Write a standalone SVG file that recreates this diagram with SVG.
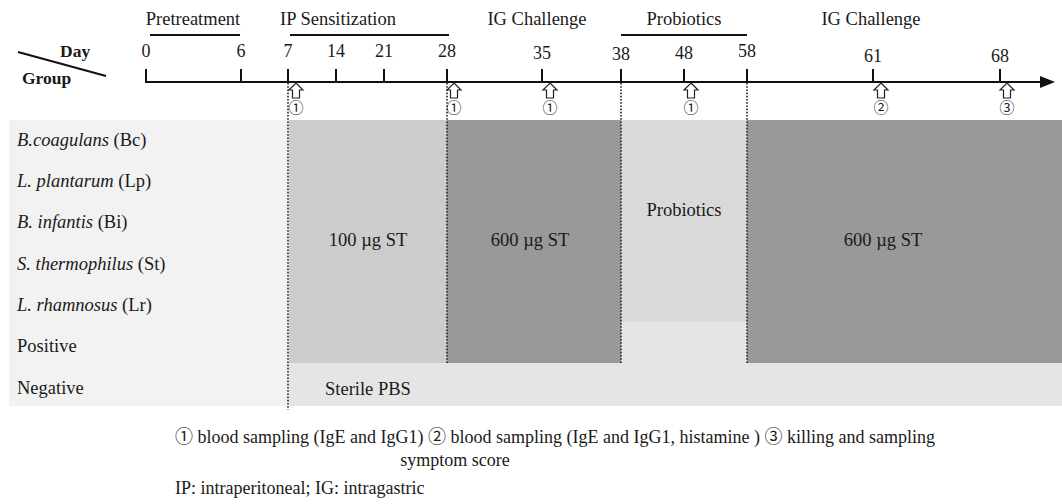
<svg xmlns="http://www.w3.org/2000/svg" width="1062" height="504" viewBox="0 0 1062 504">
<style>
text{font-family:"Liberation Serif","Noto Sans CJK SC",serif;fill:#1a1a1a;font-size:18.5px}
.h{font-size:18.5px}
.b{font-weight:bold;font-size:17.5px}
.n{font-size:18px;text-anchor:middle}
.c{text-anchor:middle}
.i{font-style:italic}
.cn{font-size:15px;text-anchor:middle;font-family:"Noto Sans CJK SC",sans-serif}
.lg{font-size:18px}
.ax{stroke:#111;stroke-width:2;fill:none}
.dot{stroke:#222;stroke-width:1.6;stroke-dasharray:1.6 1.6;fill:none}
.arr{fill:#fff;stroke:#222;stroke-width:1.2}
</style>
<defs>
<path id="up" d="M0,0 L7,7 L3.5,7 L3.5,15 L-3.5,15 L-3.5,7 L-7,7 Z"/>
</defs>
<rect width="1062" height="504" fill="#fff"/>
<g id="table">
<rect x="9" y="120" width="1053" height="286" fill="#f2f2f2"/>
<rect id="sterile" x="289" y="363" width="773" height="43" fill="#e5e5e5"/>
<rect x="621" y="322" width="126" height="41" fill="#e5e5e5"/>
<rect id="ip100" x="289" y="120" width="158" height="243" fill="#cccccc"/>
<rect id="ig600a" x="447" y="120" width="174" height="243" fill="#999999"/>
<rect id="probio" x="621" y="120" width="126" height="202" fill="#d9d9d9"/>
<rect id="ig600b" x="747" y="120" width="315" height="243" fill="#999999"/>
<text x="368" y="246" class="c">100 µg ST</text>
<text x="530" y="246" class="c">600 µg ST</text>
<text x="684" y="216" class="c">Probiotics</text>
<text x="883" y="246" class="c">600 µg ST</text>
<text x="325" y="395">Sterile PBS</text>
</g>
<g id="rows">
<text x="17" y="146"><tspan class="i">B.coagulans</tspan> (Bc)</text>
<text x="17" y="187"><tspan class="i">L. plantarum</tspan> (Lp)</text>
<text x="17" y="228"><tspan class="i">B. infantis</tspan> (Bi)</text>
<text x="17" y="270"><tspan class="i">S. thermophilus</tspan> (St)</text>
<text x="17" y="311"><tspan class="i">L. rhamnosus</tspan> (Lr)</text>
<text x="17" y="352">Positive</text>
<text x="17" y="394">Negative</text>
</g>
<g id="header">
<line x1="18" y1="52" x2="106" y2="76" class="ax"/>
<text x="60" y="57" class="b">Day</text>
<text x="22" y="84" class="b">Group</text>
<text x="193" y="25" class="h c">Pretreatment</text>
<line x1="150" y1="35" x2="240" y2="35" class="ax"/>
<text x="338" y="25" class="h c">IP Sensitization</text>
<line x1="290" y1="35" x2="449" y2="35" class="ax"/>
<text x="537" y="25" class="h c">IG Challenge</text>
<text x="684" y="25" class="h c">Probiotics</text>
<line x1="621" y1="35" x2="747" y2="35" class="ax"/>
<text x="871" y="25" class="h c">IG Challenge</text>
</g>
<g id="connectors">
<path d="M146,69 V82 H1043" class="ax"/>
<polygon points="1040,76 1055,82 1040,88" fill="#111"/>
<path d="M241,69V82M288,69V82M336,69V82M384,69V82M447,69V82M542,69V82M621,69V82M684,69V82M747,69V82M873,69V82M1000,69V82" class="ax"/>
<line x1="288" y1="83" x2="288" y2="410" class="dot"/>
<line x1="447" y1="83" x2="447" y2="363" class="dot"/>
<line x1="621" y1="83" x2="621" y2="363" class="dot"/>
<line x1="747" y1="83" x2="747" y2="363" class="dot"/>
<use href="#up" x="296" y="83" class="arr"/>
<use href="#up" x="454" y="83" class="arr"/>
<use href="#up" x="550" y="83" class="arr"/>
<use href="#up" x="691" y="83" class="arr"/>
<use href="#up" x="881" y="83" class="arr"/>
<use href="#up" x="1007" y="83" class="arr"/>
</g>
<g id="days">
<text x="146" y="57" class="n">0</text>
<text x="241" y="57" class="n">6</text>
<text x="288" y="57" class="n">7</text>
<text x="336" y="57" class="n">14</text>
<text x="384" y="57" class="n">21</text>
<text x="447" y="57" class="n">28</text>
<text x="542" y="59" class="n">35</text>
<text x="621" y="60" class="n">38</text>
<text x="684" y="59" class="n">48</text>
<text x="747" y="57" class="n">58</text>
<text x="873" y="62" class="n">61</text>
<text x="1000" y="62" class="n">68</text>
</g>
<g id="marks">
<text x="296" y="113" class="cn">①</text>
<text x="454" y="113" class="cn">①</text>
<text x="550" y="113" class="cn">①</text>
<text x="691" y="113" class="cn">①</text>
<text x="881" y="113" class="cn">②</text>
<text x="1007" y="113" class="cn">③</text>
</g>
<g id="legend">
<text x="175" y="443" class="lg">① blood sampling (IgE and IgG1) ② blood sampling (IgE and IgG1, histamine ) ③ killing and sampling</text>
<text x="455" y="466" class="c lg">symptom score</text>
<text x="175" y="494" class="lg">IP: intraperitoneal; IG: intragastric</text>
</g>
</svg>
